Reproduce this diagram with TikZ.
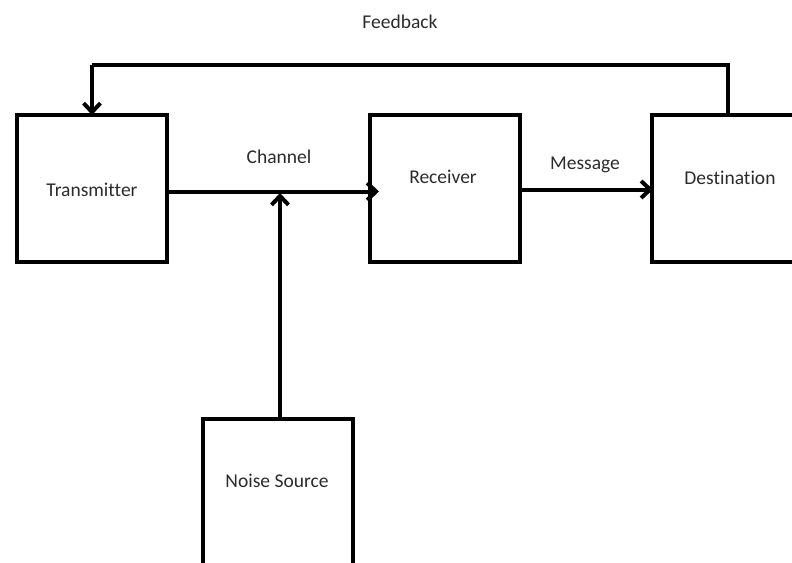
\documentclass[tikz,border=0pt]{standalone}
\usepackage{fontspec}
\setmainfont{Carlito}[Ligatures=NoCommon]
\usetikzlibrary{arrows.meta,calc}
\definecolor{txt}{HTML}{2B2B2B}
\begin{document}
\begin{tikzpicture}[x=1pt,y=-1pt,
  box/.style={draw=black,line width=3.5pt,minimum width=150pt,minimum height=147pt,inner sep=0pt,outer sep=0pt,anchor=north west},
  lbl/.style={text=txt,font=\fontsize{19.5}{22}\selectfont,inner sep=0pt},
  arr/.style={line width=4pt,-{Straight Barb[length=9pt,width=17pt,line width=4pt]}},
  ln/.style={line width=4pt}]
\useasboundingbox (0,0) rectangle (792,562);
\clip (0,0) rectangle (792,562);
\node[box] (tx) at (17,115) {};
\node[box] (rx) at (370,115) {};
\node[box] (ds) at (652,115) {};
\node[box] (ns) at (203,419) {};
\node[lbl] (ltx) at (92,190) {Transmitter};
\node[lbl] (lrx) at (443,177) {Receiver};
\node[lbl] (lds) at (730,178) {Destination};
\node[lbl] (lns) at (277,481) {Noise Source};
\node[lbl] (lch) at (279,157) {Channel};
\node[lbl] (lmsg) at (585,165) {Message};
\node[lbl] (lfb) at (400,22) {Feedback};
\coordinate (fbr) at (728,65);
\coordinate (fbl) at (92,65);
\coordinate (chn) at (280,193);
% channel arrow
\draw[arr] ($(tx.east)+(0,3)$) -- ($(rx.west)+(9,3)$);
% noise arrow
\draw[arr] (ns.north -| chn) -- (chn);
% message arrow
\draw[arr] ($(rx.east)+(0,1)$) -- ($(ds.west)+(1,1)$);
% feedback
\draw[ln,line join=miter] (ds.north -| fbr) -- (fbr) -- (fbl);
\draw[arr] (fbl) -- (tx.north -| fbl);
\end{tikzpicture}
\end{document}
